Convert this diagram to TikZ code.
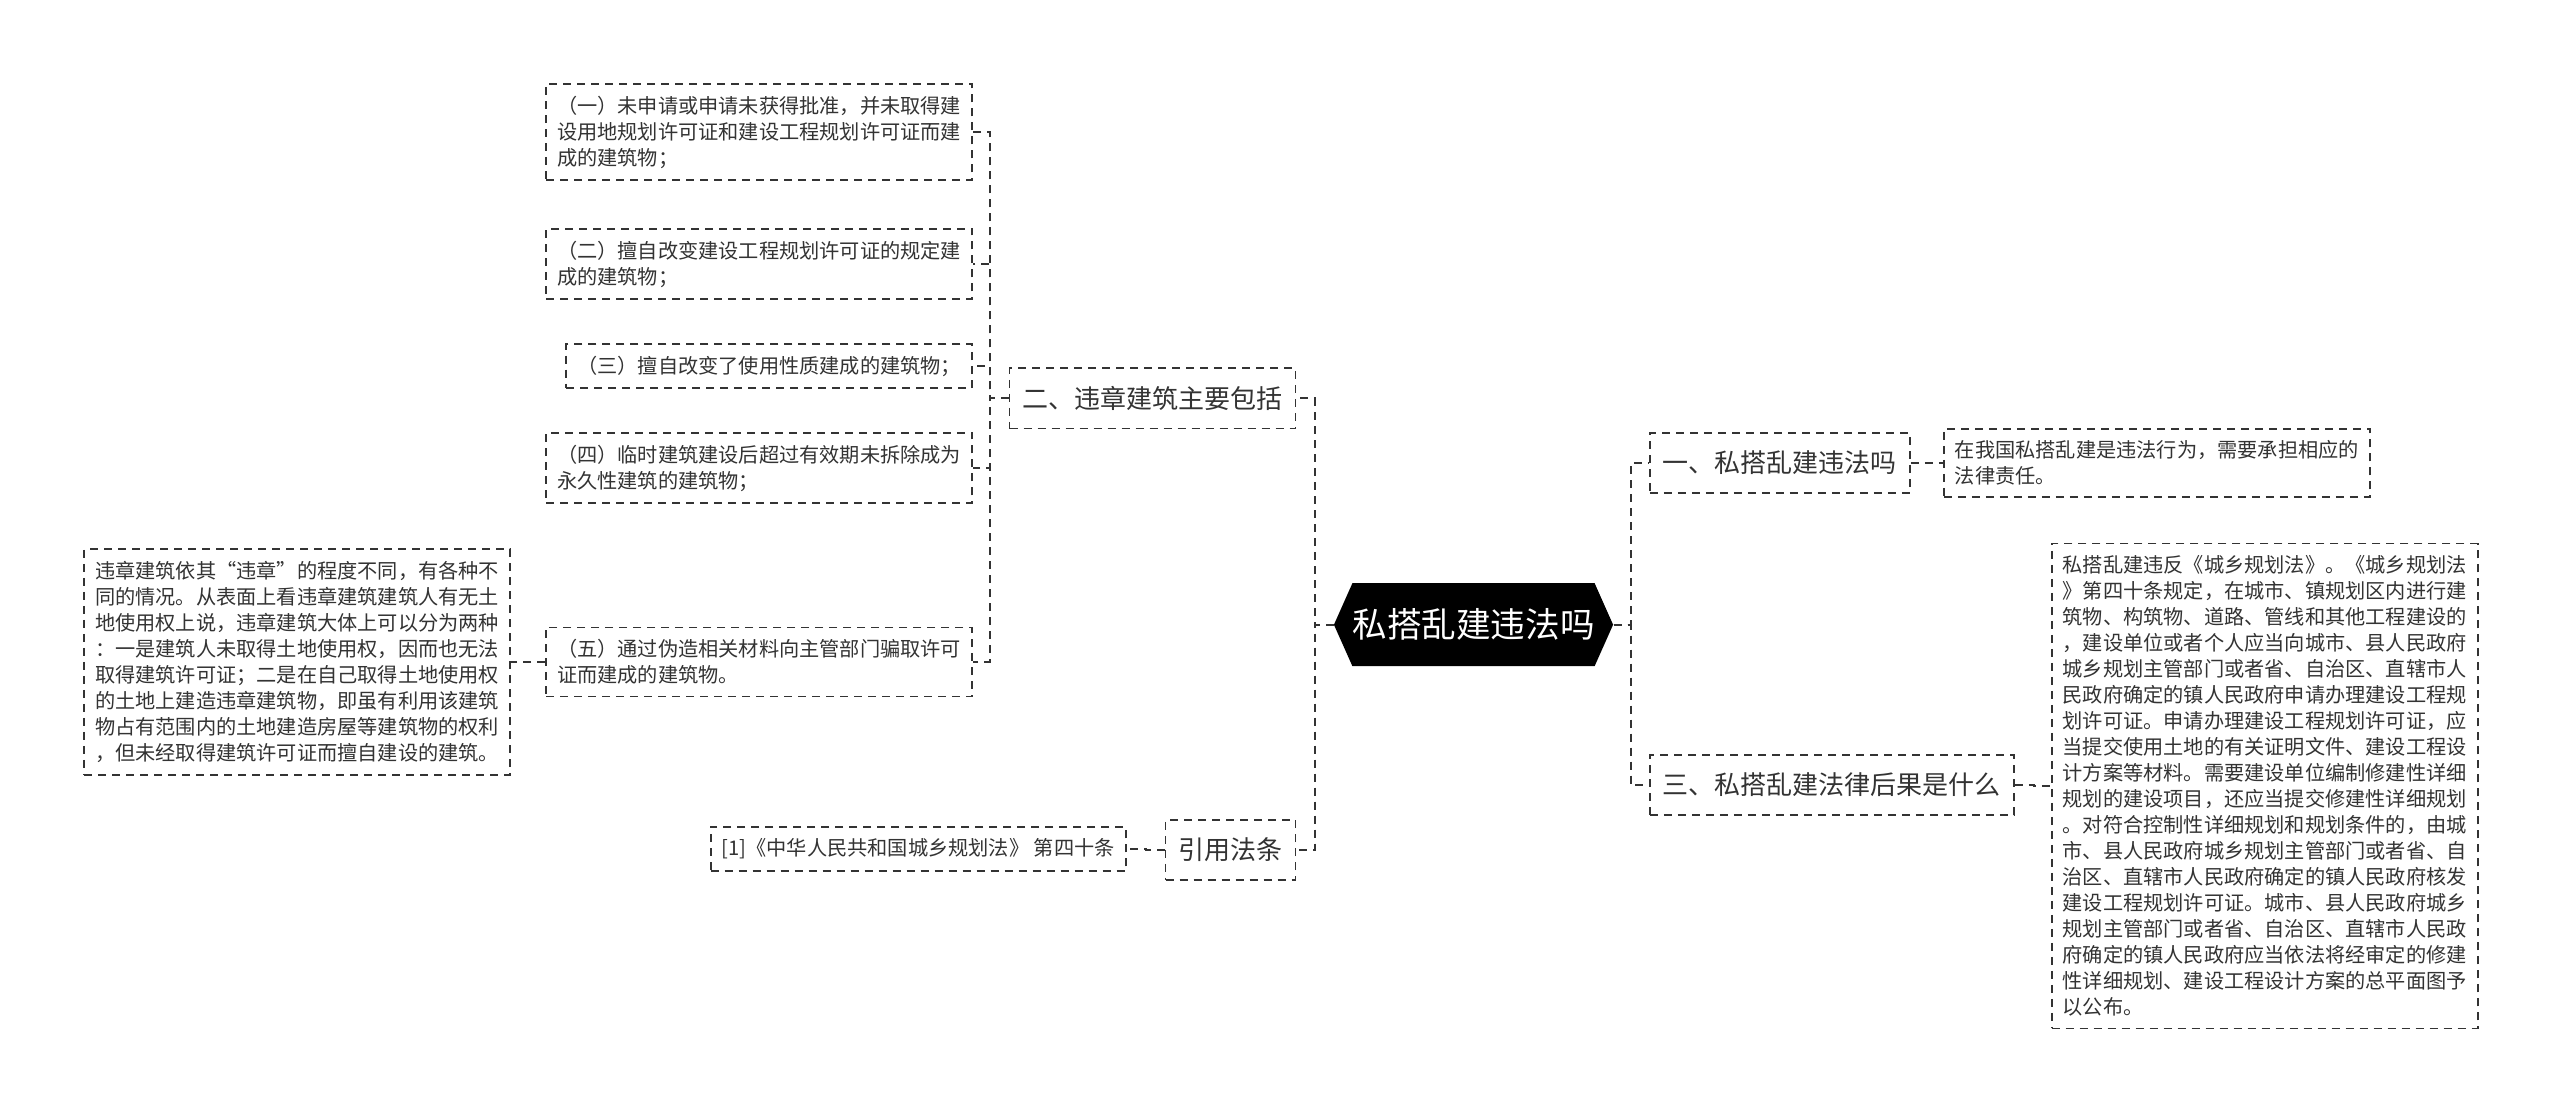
\documentclass[tikz,border=0pt]{standalone}
\usepackage{fontspec}
\setmainfont{Noto Sans CJK SC}
\usepackage{tikz}
\usetikzlibrary{shapes.symbols}
\definecolor{ink}{HTML}{333333}

\begin{document}
\begin{tikzpicture}[x=0.5pt,y=-0.5pt,
  leaf/.style={draw=ink,line width=0.9pt,dash pattern=on 4pt off 3pt,text=ink,align=left,
    inner xsep=5.5pt,inner ysep=6pt,font=\fontsize{10.1pt}{13pt}\selectfont},
  branch/.style={leaf,inner xsep=6.5pt,inner ysep=9pt,font=\fontsize{13pt}{16pt}\selectfont},
  hub/.style={signal,signal to=west and east,signal pointer angle=132,fill=black,text=white,
    inner xsep=0pt,minimum height=41.5pt,font=\fontsize{17.3pt}{20pt}\selectfont},
  link/.style={draw=ink,line width=1pt,dash pattern=on 4pt off 3pt}]
\fill[white] (0,0) rectangle (2560,1117);
\useasboundingbox (0,0) rectangle (2560,1117);

% centre
\node[hub] (root) at (1473.5,624.7) {私搭乱建违法吗};

% left side
\node[branch,anchor=east] (illegal) at (1296.4,398.4) {二、违章建筑主要包括};
\node[branch,anchor=east] (cite) at (1296.4,850) {引用法条};
\node[leaf,anchor=east] (caseA) at (973,132) {（一）未申请或申请未获得批准，并未取得建\\设用地规划许可证和建设工程规划许可证而建\\成的建筑物；};
\node[leaf,anchor=east] (caseB) at (973,264) {（二）擅自改变建设工程规划许可证的规定建\\成的建筑物；};
\node[leaf,anchor=east] (caseC) at (973,366) {（三）擅自改变了使用性质建成的建筑物；};
\node[leaf,anchor=east] (caseD) at (973,468) {（四）临时建筑建设后超过有效期未拆除成为\\永久性建筑的建筑物；};
\node[leaf,anchor=east] (caseE) at (973,662) {（五）通过伪造相关材料向主管部门骗取许可\\证而建成的建筑物。};
\node[leaf,anchor=east] (degree) at (511,662) {违章建筑依其“违章”的程度不同，有各种不\\同的情况。从表面上看违章建筑建筑人有无土\\地使用权上说，违章建筑大体上可以分为两种\\：一是建筑人未取得土地使用权，因而也无法\\取得建筑许可证；二是在自己取得土地使用权\\的土地上建造违章建筑物，即虽有利用该建筑\\物占有范围内的土地建造房屋等建筑物的权利\\，但未经取得建筑许可证而擅自建设的建筑。};
\node[leaf,anchor=east] (lawref) at (1126.6,849) {[1]《中华人民共和国城乡规划法》 第四十条};

% right side
\node[branch,anchor=west] (isillegal) at (1649,463) {一、私搭乱建违法吗};
\node[branch,anchor=west] (result) at (1649,785) {三、私搭乱建法律后果是什么};
\node[leaf,anchor=west] (answer) at (1943,463) {在我国私搭乱建是违法行为，需要承担相应的\\法律责任。};
\node[leaf,anchor=west] (article) at (2050.7,786) {私搭乱建违反《城乡规划法》。《城乡规划法\\》第四十条规定，在城市、镇规划区内进行建\\筑物、构筑物、道路、管线和其他工程建设的\\，建设单位或者个人应当向城市、县人民政府\\城乡规划主管部门或者省、自治区、直辖市人\\民政府确定的镇人民政府申请办理建设工程规\\划许可证。申请办理建设工程规划许可证，应\\当提交使用土地的有关证明文件、建设工程设\\计方案等材料。需要建设单位编制修建性详细\\规划的建设项目，还应当提交修建性详细规划\\。对符合控制性详细规划和规划条件的，由城\\市、县人民政府城乡规划主管部门或者省、自\\治区、直辖市人民政府确定的镇人民政府核发\\建设工程规划许可证。城市、县人民政府城乡\\规划主管部门或者省、自治区、直辖市人民政\\府确定的镇人民政府应当依法将经审定的修建\\性详细规划、建设工程设计方案的总平面图予\\以公布。};

% connectors
\draw[link] (root.west) -- ++(-19,0) |- (illegal.east);
\draw[link] (root.west) -- ++(-19,0) |- (cite.east);
\draw[link] (root.east) -- ++(17,0) |- (isillegal.west);
\draw[link] (root.east) -- ++(17,0) |- (result.west);
\draw[link] (illegal.west) -- ++(-19,0) |- (caseA.east);
\draw[link] (illegal.west) -- ++(-19,0) |- (caseB.east);
\draw[link] (illegal.west) -- ++(-19,0) |- (caseC.east);
\draw[link] (illegal.west) -- ++(-19,0) |- (caseD.east);
\draw[link] (illegal.west) -- ++(-19,0) |- (caseE.east);
\draw[link] (caseE.west) -- ++(-19,0) |- (degree.east);
\draw[link] (cite.west) -- ++(-19,0) |- (lawref.east);
\draw[link] (isillegal.east) -- ++(19,0) |- (answer.west);
\draw[link] (result.east) -- ++(19,0) |- (article.west);
\end{tikzpicture}
\end{document}
